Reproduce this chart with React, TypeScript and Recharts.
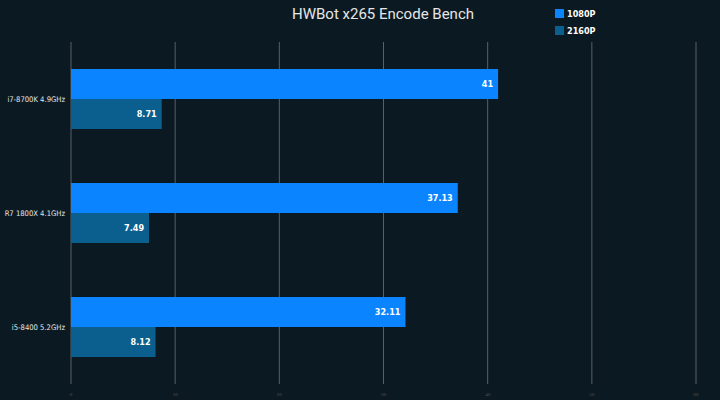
import { BarChart, Bar, XAxis, YAxis, CartesianGrid, LabelList } from "recharts";

const cpus = ["i7-8700K 4.9GHz", "R7 1800X 4.1GHz", "i5-8400 5.2GHz"];
const fps1080 = [41, 37.13, 32.11];
const fps2160 = [8.71, 7.49, 8.12];
const xTicks = [0, 10, 20, 30, 40, 50, 60];

const data = cpus.map((cpu, i) => ({ cpu, p1080: fps1080[i], p2160: fps2160[i] }));

const BG = "#0b1a22";
const C1080 = "#0a84ff";
const C2160 = "#0a5f8e";

function LegendBox() {
  const items = [
    { name: "1080P", color: C1080 },
    { name: "2160P", color: C2160 },
  ];
  return (
    <div style={{ position: "absolute", top: 5, left: 555 }}>
      {items.map((it) => (
        <div key={it.name} style={{ display: "flex", alignItems: "center", height: 17 }}>
          <span style={{ width: 9, height: 9, background: it.color, marginRight: 3 }} />
          <span style={{ color: "#fff", fontSize: 9, fontWeight: 700, fontFamily: "DejaVu Sans Condensed" }}>{it.name}</span>
        </div>
      ))}
    </div>
  );
}

function CpuTick(props: any) {
  const { x, y, payload } = props;
  return (
    <text x={x + 2} y={y} dy={3} textAnchor="end" fill="#e6e6e6" fontSize={7.6} fontFamily="DejaVu Sans Condensed">
      {payload.value}
    </text>
  );
}

export default function App() {
  return (
    <div style={{ width: 720, height: 400, background: BG, position: "relative" }}>
      <style>{"body{margin:0}"}</style>
      <div
        style={{
          position: "absolute",
          top: 5,
          left: 0,
          width: 766,
          textAlign: "center",
          color: "#e6e6e6",
          fontSize: 15,
          fontFamily: "Roboto",
        }}
      >
        HWBot x265 Encode Bench
      </div>
      <LegendBox />
      <BarChart
        width={720}
        height={400}
        data={data}
        layout="vertical"
        margin={{ top: 42, right: 24, left: 5, bottom: 8 }}
        barGap={0}
        barSize={30}
      >
        <CartesianGrid horizontal={false} stroke="#5a5f63" />
        <XAxis
          type="number"
          domain={[0, 60]}
          ticks={xTicks}
          axisLine={false}
          tickLine={false}
          height={8}
          tick={{ fontSize: 5, fill: "#555" }}
        />
        <YAxis
          type="category"
          dataKey="cpu"
          width={66}
          axisLine={false}
          tickLine={false}
          tick={<CpuTick />}
        />
        <Bar dataKey="p1080" name="1080P" fill={C1080} isAnimationActive={false}>
          <LabelList
            dataKey="p1080"
            position="insideRight"
            fill="#fff"
            fontSize={9}
            fontWeight={700}
            fontFamily="DejaVu Sans Condensed"
          />
        </Bar>
        <Bar dataKey="p2160" name="2160P" fill={C2160} isAnimationActive={false}>
          <LabelList
            dataKey="p2160"
            position="insideRight"
            fill="#fff"
            fontSize={9}
            fontWeight={700}
            fontFamily="DejaVu Sans Condensed"
          />
        </Bar>
      </BarChart>
    </div>
  );
}
